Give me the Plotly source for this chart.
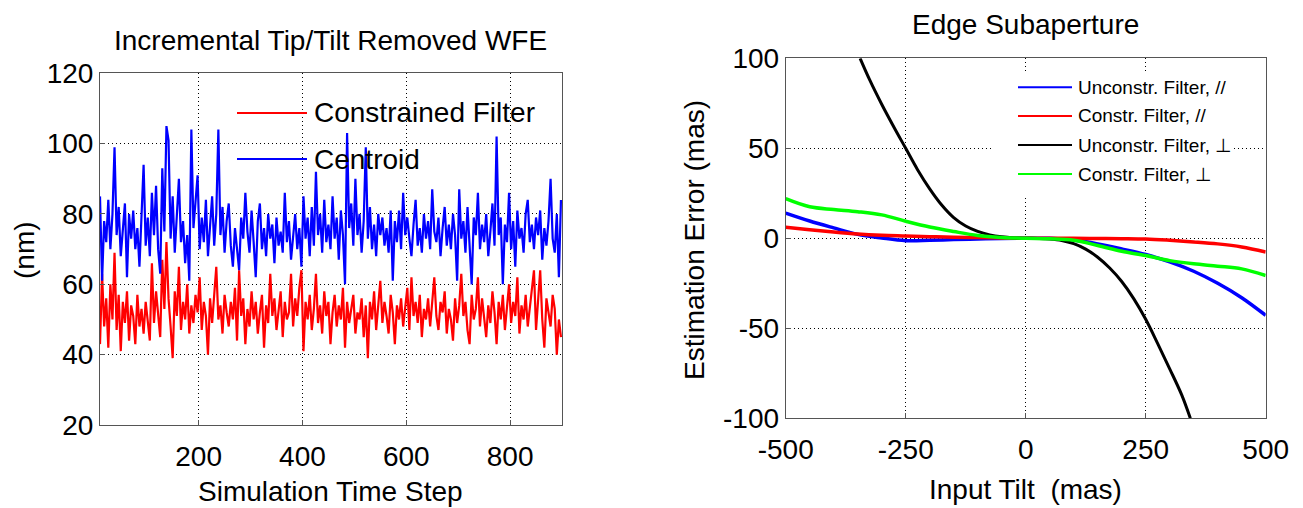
import plotly.graph_objects as go

# the page body keeps the browser's 8px margin, so everything is shifted by 8px
W, H = 1287, 500
OFF = 8

# left panel: incremental tip/tilt removed WFE (nm), every 4th time step
time_step = list(range(10, 899, 4))
centroid = [85, 61, 78, 72, 84, 70, 80, 99, 74, 82, 68, 77, 83, 62, 80, 73, 81, 70, 76, 65,
            78, 94, 71, 79, 68, 86, 74, 88, 70, 63, 93, 75, 105, 101, 73, 85, 69, 80, 90, 72,
            78, 66, 74, 61, 104, 76, 83, 91, 70, 79, 72, 84, 68, 77, 85, 71, 80, 104, 74, 82,
            69, 78, 83, 71, 65, 76, 70, 64, 79, 73, 86, 75, 69, 81, 72, 62, 78, 83, 70, 76,
            68, 80, 73, 77, 66, 79, 71, 75, 69, 86, 72, 78, 67, 74, 80, 70, 76, 65, 85, 73,
            79, 68, 82, 71, 92, 74, 80, 69, 84, 72, 77, 70, 85, 73, 79, 67, 81, 74, 60, 103,
            76, 83, 71, 90, 74, 80, 69, 78, 99, 73, 82, 70, 77, 68, 80, 74, 79, 71, 76, 69,
            81, 61, 78, 72, 81, 70, 86, 74, 79, 73, 68, 77, 84, 71, 76, 69, 80, 73, 78, 70,
            87, 75, 72, 79, 68, 76, 82, 71, 77, 70, 80, 74, 61, 87, 73, 78, 69, 82, 72, 60,
            79, 74, 86, 70, 77, 72, 80, 68, 75, 83, 71, 102, 74, 79, 60, 77, 72, 86, 70, 78,
            65, 81, 73, 76, 69, 80, 84, 72, 77, 70, 79, 74, 81, 67, 76, 71, 78, 90, 73, 69,
            80, 62, 84]
constrained = [43, 63, 48, 56, 42, 60, 50, 69, 47, 57, 41, 55, 49, 58, 44, 54, 51, 43, 57, 48,
               53, 46, 55, 50, 44, 66, 49, 58, 52, 45, 67, 53, 72, 56, 48, 39, 58, 51, 65, 47,
               55, 50, 60, 46, 54, 49, 57, 52, 62, 47, 55, 51, 40, 56, 49, 58, 65, 50, 54, 46,
               57, 52, 48, 55, 50, 59, 44, 64, 51, 56, 43, 53, 48, 58, 50, 55, 46, 52, 57, 42,
               54, 49, 63, 51, 56, 47, 53, 58, 45, 55, 50, 52, 63, 48, 56, 51, 59, 64, 41, 55,
               50, 57, 47, 53, 63, 49, 54, 46, 58, 51, 55, 43, 52, 57, 48, 54, 50, 59, 42, 55,
               49, 53, 57, 46, 52, 50, 56, 45, 54, 39, 55, 50, 58, 47, 53, 61, 49, 55, 51, 46,
               57, 52, 43, 54, 50, 56, 48, 53, 59, 47, 62, 51, 55, 49, 57, 45, 53, 50, 56, 48,
               54, 62, 51, 47, 55, 52, 58, 46, 53, 50, 44, 56, 49, 54, 63, 51, 55, 47, 43, 57,
               50, 53, 62, 48, 56, 51, 45, 54, 49, 58, 52, 43, 55, 50, 57, 47, 53, 60, 49, 55,
               51, 62, 46, 54, 50, 57, 48, 53, 59, 64, 47, 55, 64, 50, 42, 56, 52, 48, 57, 53,
               40, 50, 45]

# right panel: estimation error (mas) vs input tilt (mas)
tilt = [-500, -450, -400, -350, -300, -250, -200, -150, -100, -50, 0,
        50, 100, 150, 200, 250, 300, 350, 400, 450, 500]
unc_par = [14, 9.6, 5.8, 2.2, 0.2, -1.3, -1.1, -0.7, -0.4, -0.1, 0,
           0, -1, -3.1, -5.9, -9, -13.1, -18.3, -25, -33, -42.8]
con_par = [6.1, 4.8, 3.5, 2.4, 1.7, 1.3, 0.9, 0.55, 0.4, 0.2, 0,
           0, 0, -0.1, -0.2, -0.4, -1.1, -2, -3.1, -4.8, -7.6]
con_perp = [22, 17.5, 16, 14.8, 13, 9.5, 6.3, 3.8, 1.6, 0.5, 0,
            -0.3, -1.1, -4, -7.2, -9.6, -12.4, -14.2, -15.5, -17, -20.7]
tilt_unc_perp = [-345, -325, -300, -275, -250, -225, -200, -175, -150, -125, -100, -75, -50, -25, 0,
                 25, 50, 75, 100, 125, 150, 175, 200, 225, 250, 275, 300, 325, 343]
unc_perp = [100, 88, 74.5, 62, 50, 38, 27.5, 18.5, 11.5, 6.8, 3.8, 1.9, 0.8, 0.2, 0,
            -0.1, -0.4, -1.2, -3, -6, -10.5, -16.5, -24, -33.5, -45, -58.5, -72.5, -87, -100]

left_xticks = [200, 400, 600, 800]
left_yticks = [20, 40, 60, 80, 100, 120]
right_xticks = [-500, -250, 0, 250, 500]
right_yticks = [-100, -50, 0, 50, 100]

FONT = "Liberation Sans, Arial, sans-serif"


def px(x):
    return (x - OFF) / W


def py(y):
    return 1 - (y - OFF) / H


def labels(vals):
    # plain hyphen minus like the original figure
    return [str(v) for v in vals]


fig = go.Figure()

fig.add_trace(go.Scatter(x=time_step, y=constrained, mode="lines", name="Constrained Filter",
                         line=dict(color="#ff0000", width=2.2), xaxis="x", yaxis="y"))
fig.add_trace(go.Scatter(x=time_step, y=centroid, mode="lines", name="Centroid",
                         line=dict(color="#0000ff", width=2.2), xaxis="x", yaxis="y"))

right_series = [
    (tilt, unc_par, "Unconstr. Filter, //", "#0000ff", 3.5),
    (tilt, con_par, "Constr. Filter, //", "#ff0000", 3.5),
    (tilt_unc_perp, unc_perp, "Unconstr. Filter, \u22a5", "#000000", 3),
    (tilt, con_perp, "Constr. Filter, \u22a5", "#00ff00", 3.5),
]
for xs, ys, name, col, lw in right_series:
    fig.add_trace(go.Scatter(x=xs, y=ys, mode="lines", name=name,
                             line=dict(color=col, width=lw, shape="spline", smoothing=1.0),
                             xaxis="x2", yaxis="y2"))

axis_style = dict(
    showline=True, mirror=True, linecolor="#555555", linewidth=1,
    ticks="inside", ticklen=5, tickcolor="#555555",
    showgrid=True, gridcolor="#000000", gridwidth=1, griddash="1px,3px",
    zeroline=False, automargin=False,
    tickfont=dict(family=FONT, size=28, color="black"),
)

fig.update_layout(
    width=W, height=H,
    margin=dict(l=0, r=0, t=0, b=0),
    paper_bgcolor="white", plot_bgcolor="white",
    showlegend=False,
    xaxis=dict(domain=[px(100), px(562)], range=[10, 900], tickvals=left_xticks,
               ticktext=labels(left_xticks), anchor="y", ticklabelstandoff=6, **axis_style),
    yaxis=dict(domain=[py(425), py(73.3)], range=[20, 120], tickvals=left_yticks,
               ticktext=labels(left_yticks), anchor="x", ticklabelstandoff=0, **axis_style),
    xaxis2=dict(domain=[px(785.7), px(1265.7)], range=[-500, 500], tickvals=right_xticks,
                ticktext=labels(right_xticks), anchor="y2", ticklabelstandoff=6, **axis_style),
    yaxis2=dict(domain=[py(418.3), py(58.3)], range=[-100, 100], tickvals=right_yticks,
                ticktext=labels(right_yticks), anchor="x2", ticklabelstandoff=0, **axis_style),
)

txt = dict(family=FONT, size=28, color="black")
notes = [
    dict(x=px(331), y=py(40), text="Incremental Tip/Tilt Removed WFE"),
    dict(x=px(1025.7), y=py(24), text="Edge Subaperture"),
    dict(x=px(331), y=py(491), text="Simulation Time Step"),
    dict(x=px(1025.7), y=py(489), text="Input Tilt\u00a0 (mas)"),
    dict(x=px(24), y=py(250), text="(nm)", textangle=-90),
    dict(x=px(695), y=py(240), text="Estimation Error (mas)", textangle=-90),
]
for n in notes:
    fig.add_annotation(xref="paper", yref="paper", showarrow=False, font=txt,
                       xanchor="center", yanchor="middle", **n)

# left legend (transparent, long line samples)
for yy, col, name in [(113, "#ff0000", "Constrained Filter"), (159, "#0000ff", "Centroid")]:
    fig.add_shape(type="line", xref="paper", yref="paper", x0=px(237), x1=px(307),
                  y0=py(yy), y1=py(yy), line=dict(color=col, width=2))
    fig.add_annotation(xref="paper", yref="paper", x=px(312), y=py(yy), text=name,
                       showarrow=False, xanchor="left", yanchor="middle", font=txt)

# right legend (white box, no border)
fig.add_shape(type="rect", xref="paper", yref="paper", x0=px(994), x1=px(1232),
              y0=py(195), y1=py(72), fillcolor="white", line=dict(width=0), layer="above")
for yy, (_, _, name, col, _) in zip([87.3, 116, 145, 174], right_series):
    fig.add_shape(type="line", xref="paper", yref="paper", x0=px(1018), x1=px(1072),
                  y0=py(yy), y1=py(yy), line=dict(color=col, width=2))
    fig.add_annotation(xref="paper", yref="paper", x=px(1076), y=py(yy), text=name,
                       showarrow=False, xanchor="left", yanchor="middle",
                       font=dict(family=FONT, size=19, color="black"))

fig.write_html("out.html")
